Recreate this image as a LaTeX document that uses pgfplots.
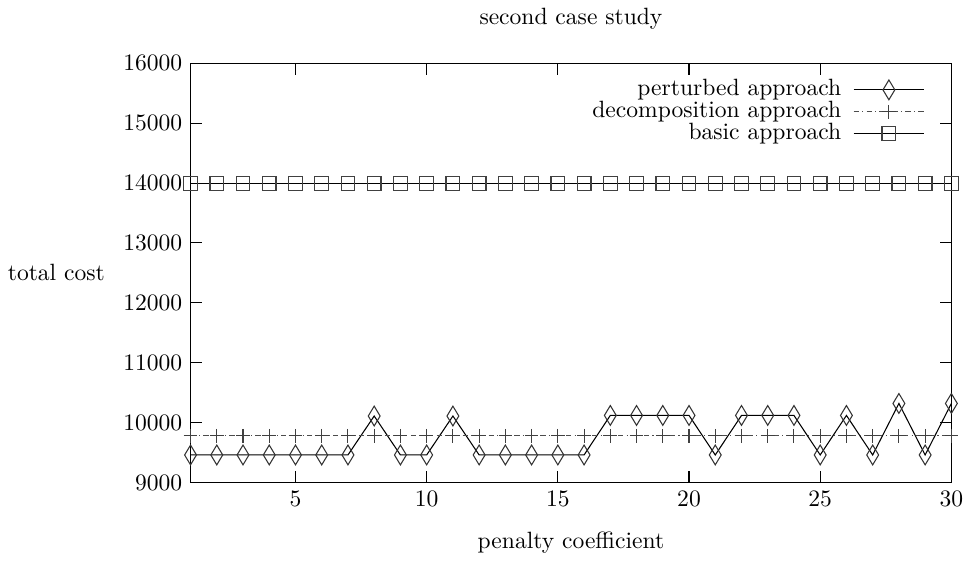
\documentclass[border=0pt]{standalone}
\usepackage{pgfplots}
\pgfplotsset{compat=1.18}
\begin{document}
\begin{tikzpicture}
\begin{axis}[
    scale only axis,
    width=323pt, height=178pt,
    xmin=1, xmax=30, ymin=9000, ymax=16000,
    xtick={5,10,15,20,25,30},
    ytick={9000,10000,11000,12000,13000,14000,15000,16000},
    scaled y ticks=false,
    yticklabel style={/pgf/number format/1000 sep={}},
    tick align=inside,
    major tick length=5pt,
    tick style={black, line width=0.45pt},
    axis line style={line width=0.5pt},
    title={second case study},
    title style={yshift=5pt},
    xlabel={penalty coefficient},
    xlabel style={yshift=-4pt},
    ylabel={total cost},
    ylabel style={rotate=-90, xshift=-1pt},
    legend style={draw=none, fill=none, at={(0.975,0.975)}, anchor=north east,
        row sep=0pt, column sep=3pt,
        nodes={inner ysep=0.5pt, text height=6.5pt, text depth=1.8pt}},
    legend cell align=right,
    legend plot pos=right,
    legend image code/.code={
        \draw[mark repeat=2, mark phase=2, #1] plot coordinates {(0pt,0pt) (15pt,0pt) (30pt,0pt)};
    },
]
% perturbed approach
\addplot[black, line width=0.45pt, mark=diamond, mark size=4.2pt, mark options={xscale=0.8, solid, black!80}] coordinates {
    (1,9460) (2,9460) (3,9460) (4,9460) (5,9460) (6,9460) (7,9460) (8,10110) (9,9460) (10,9460)
    (11,10110) (12,9460) (13,9460) (14,9460) (15,9460) (16,9460) (17,10120) (18,10120) (19,10120) (20,10120)
    (21,9460) (22,10120) (23,10120) (24,10120) (25,9460) (26,10120) (27,9460) (28,10320) (29,9460) (30,10320)
};
\addlegendentry{perturbed approach}
% decomposition approach
\addplot[black!70, line width=0.45pt, dash pattern=on 2.2pt off 1.4pt on 0.5pt off 1.4pt, mark=+, mark size=2.9pt, mark options={solid, black!75}] coordinates {
    (1,9780) (2,9780) (3,9780) (4,9780) (5,9780) (6,9780) (7,9780) (8,9780) (9,9780) (10,9780)
    (11,9780) (12,9780) (13,9780) (14,9780) (15,9780) (16,9780) (17,9780) (18,9780) (19,9780) (20,9780)
    (21,9780) (22,9780) (23,9780) (24,9780) (25,9780) (26,9780) (27,9780) (28,9780) (29,9780) (30,9780)
};
\addlegendentry{decomposition approach}
% basic approach
\addplot[black, line width=0.5pt, mark=square, mark size=2.9pt, mark options={solid, black!75}] coordinates {
    (1,13990) (2,13990) (3,13990) (4,13990) (5,13990) (6,13990) (7,13990) (8,13990) (9,13990) (10,13990)
    (11,13990) (12,13990) (13,13990) (14,13990) (15,13990) (16,13990) (17,13990) (18,13990) (19,13990) (20,13990)
    (21,13990) (22,13990) (23,13990) (24,13990) (25,13990) (26,13990) (27,13990) (28,13990) (29,13990) (30,13990)
};
\addlegendentry{basic approach}
\end{axis}
\end{tikzpicture}
\end{document}
